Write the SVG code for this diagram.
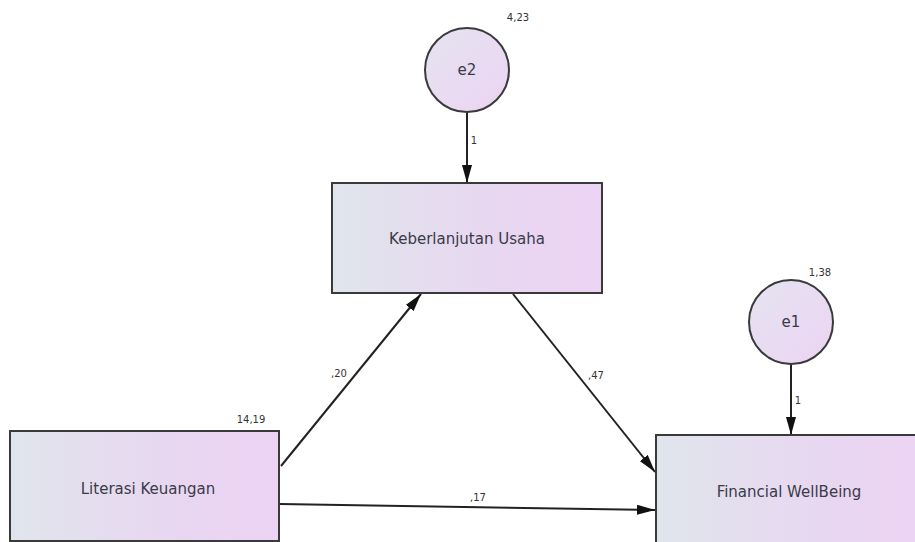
<svg xmlns="http://www.w3.org/2000/svg" width="915" height="542" viewBox="0 0 915 542">
<defs>
<linearGradient id="boxg" x1="0" y1="0" x2="1" y2="0">
<stop offset="0" stop-color="#e0e5ec"/>
<stop offset="0.6" stop-color="#e8d7f1"/>
<stop offset="1" stop-color="#ecd3f4"/>
</linearGradient>
<linearGradient id="circg" x1="0" y1="0" x2="1" y2="1">
<stop offset="0" stop-color="#e4e4f0"/>
<stop offset="1" stop-color="#edd3f3"/>
</linearGradient>
<marker id="arr" viewBox="0 0 18 10" refX="18" refY="5" markerWidth="18" markerHeight="10" markerUnits="userSpaceOnUse" orient="auto">
<path d="M0,0 L18,5 L0,10 z" fill="#111"/>
</marker>
</defs>
<style>
.box{fill:url(#boxg);stroke:#3a3a3a;stroke-width:2}
.circ{fill:url(#circg);stroke:#3a3a3a;stroke-width:2}
.lbl{font-family:"DejaVu Sans",Verdana,sans-serif;font-size:15px;fill:#3a3a48;text-anchor:middle;dominant-baseline:central}
.num{font-family:"DejaVu Sans",Verdana,sans-serif;font-size:10px;fill:#333;text-anchor:middle;dominant-baseline:central}
.edge{stroke:#222;stroke-width:2;fill:none;marker-end:url(#arr)}
</style>
<rect width="915" height="542" fill="#ffffff"/>
<g id="connectors">
<line class="edge" x1="467" y1="112" x2="467" y2="183"/>
<line class="edge" x1="791" y1="364" x2="791" y2="435"/>
<line class="edge" x1="281" y1="466" x2="421" y2="294"/>
<line class="edge" x1="513" y1="294" x2="655" y2="472"/>
<line class="edge" x1="280" y1="504" x2="655" y2="510"/>
<text class="num" x="474" y="140">1</text>
<text class="num" x="798" y="400">1</text>
<text class="num" x="339" y="373">,20</text>
<text class="num" x="596" y="375">,47</text>
<text class="num" x="478" y="497">,17</text>
</g>
<g id="e2">
<circle class="circ" cx="467" cy="70" r="42"/>
<text class="lbl" x="467" y="70">e2</text>
<text class="num" x="518" y="17">4,23</text>
</g>
<g id="keberlanjutan">
<rect class="box" x="332" y="183" width="270" height="110"/>
<text class="lbl" x="467" y="239">Keberlanjutan Usaha</text>
</g>
<g id="e1">
<circle class="circ" cx="791" cy="322" r="42"/>
<text class="lbl" x="791" y="322">e1</text>
<text class="num" x="820" y="272">1,38</text>
</g>
<g id="literasi">
<rect class="box" x="10" y="431" width="269" height="110"/>
<text class="lbl" x="148" y="489">Literasi Keuangan</text>
<text class="num" x="251" y="419">14,19</text>
</g>
<g id="financial">
<rect class="box" x="656" y="435" width="280" height="110"/>
<text class="lbl" x="789" y="492">Financial WellBeing</text>
</g>
</svg>
